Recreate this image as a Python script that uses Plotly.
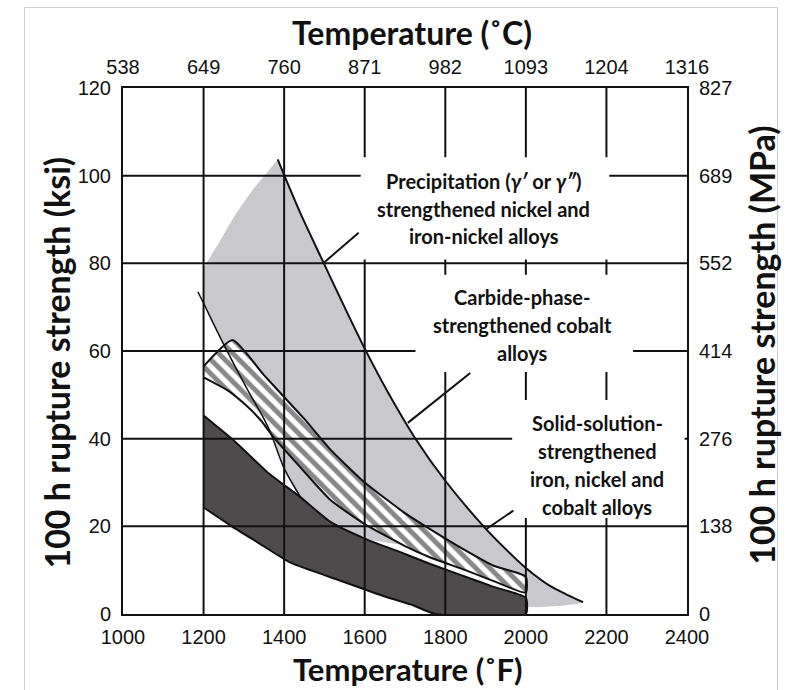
import plotly.graph_objects as go

# ---------------- data ----------------
temp_f_ticks = [1000, 1200, 1400, 1600, 1800, 2000, 2200, 2400]
temp_c_labels = ["538", "649", "760", "871", "982", "1093", "1204", "1316"]
ksi_ticks = [0, 20, 40, 60, 80, 100, 120]
mpa_labels = ["0", "138", "276", "414", "552", "689", "827"]

# Precipitation (gamma' / gamma'') strengthened Ni and Fe-Ni alloys
precip_edge_f = [1200, 1240, 1275, 1320, 1360, 1385]
precip_edge_ksi = [79, 85, 90.5, 96.5, 101, 103.5]
precip_upper_f = [1384, 1397, 1440, 1498, 1550, 1602, 1660, 1726, 1800, 1895, 1950, 2000, 2060, 2100, 2142]
precip_upper_ksi = [103.7, 100.8, 91.5, 80.1, 70, 60.2, 50.2, 40, 30.4, 20, 14.8, 10.5, 6.4, 4.5, 2.7]
precip_lower_f = [1186, 1200, 1250, 1310, 1350, 1367, 1399, 1441]
precip_lower_ksi = [73.5, 70.9, 61.5, 51, 44.5, 41.2, 33.4, 26.6]
precip_bottom_f = [2080, 2000]
precip_bottom_ksi = [1.8, 1.8]

# Solid-solution strengthened Fe, Ni and Co alloys
solid_top_f = [1200, 1275, 1359, 1441, 1515, 1600, 1700, 1763, 1850, 1920, 2000]
solid_top_ksi = [45.3, 39.6, 32.3, 26.6, 21, 17.2, 13.7, 11.4, 8.5, 6.2, 3.7]
solid_bot_f = [1200, 1270, 1335, 1416, 1540, 1650, 1720, 1775, 2000]
solid_bot_ksi = [24.3, 20, 16.3, 11.7, 7.6, 4, 2, 0, 0]

# Carbide-phase strengthened cobalt alloys
carbide_top_f = [1200, 1272, 1350, 1400, 1450, 1515, 1600, 1700, 1763, 1850, 1920, 2000]
carbide_top_ksi = [56.5, 62.5, 54.5, 49.5, 44.5, 37.5, 30, 23, 19.3, 14.5, 11, 8.5]
carbide_bot_f = [1200, 1260, 1310, 1342, 1374, 1441, 1515, 1600, 1700, 1763, 1850, 1920, 2000]
carbide_bot_ksi = [54, 51, 47.2, 44.2, 40.3, 33.4, 26, 20.5, 15.5, 12.9, 10, 7.5, 4.9]

# label texts
precip_label = ["Precipitation (<i>γ′</i> or <i>γ″</i>)", "strengthened nickel and", "iron-nickel alloys"]
carbide_label = ["Carbide-phase-", "strengthened cobalt", "alloys"]
solid_label = ["Solid-solution-", "strengthened", "iron, nickel and", "cobalt alloys"]

# ---------------- layout constants ----------------
GRAY = "#c8c8cd"
DARK = "#4e4b4d"
INK = "#111111"
LABEL_FONT = dict(family="Lato, 'Open Sans', sans-serif", size=20, color=INK)
TITLE_FONT = dict(family="Lato, 'Open Sans', sans-serif", size=32, color=INK)
BOTTOM_TITLE_FONT = dict(family="Lato, 'Open Sans', sans-serif", size=31, color=INK)
VTITLE_FONT = dict(family="Lato, 'Open Sans', sans-serif", size=34, color=INK)
TICK_FONT = dict(family="'Liberation Sans', Arial, sans-serif", size=20, color=INK)
POLY_SMOOTH = 0.5

fig = go.Figure()

# gray precipitation region
g_x = precip_edge_f + [f for f in precip_upper_f if f > 1385] + precip_bottom_f
g_y = precip_edge_ksi + [k for f, k in zip(precip_upper_f, precip_upper_ksi) if f > 1385] + precip_bottom_ksi
cb = [(f, k) for f, k in zip(carbide_bot_f, carbide_bot_ksi) if f >= 1700][::-1]
st = [(f, k) for f, k in zip(solid_top_f, solid_top_ksi) if 1441 <= f < 1700][::-1]
pl = [(f, k) for f, k in zip(precip_lower_f, precip_lower_ksi) if 1200 <= f < 1441][::-1]
for f, k in cb + st + pl:
    g_x.append(f)
    g_y.append(k)
fig.add_trace(go.Scatter(x=g_x, y=g_y, fill="toself", fillcolor=GRAY, mode="lines",
                         line=dict(width=0, color=GRAY, shape="spline", smoothing=POLY_SMOOTH),
                         hoverinfo="skip", showlegend=False))

# dark solid-solution band
fig.add_trace(go.Scatter(x=solid_top_f + solid_bot_f[::-1], y=solid_top_ksi + solid_bot_ksi[::-1],
                         fill="toself", fillcolor=DARK, mode="lines",
                         line=dict(width=2, color=INK, shape="spline", smoothing=POLY_SMOOTH),
                         hoverinfo="skip", showlegend=False))

# hatched carbide band
fig.add_trace(go.Scatter(x=carbide_top_f + carbide_bot_f[::-1], y=carbide_top_ksi + carbide_bot_ksi[::-1],
                         fill="toself", mode="lines",
                         fillpattern=dict(shape="\\", fgcolor=INK, bgcolor="white", size=10, solidity=0.5),
                         line=dict(width=2, color=INK, shape="spline", smoothing=POLY_SMOOTH),
                         hoverinfo="skip", showlegend=False))

# boundary curves of the precipitation region
fig.add_trace(go.Scatter(x=precip_upper_f, y=precip_upper_ksi, mode="lines",
                         line=dict(width=2, color=INK, shape="spline", smoothing=0.8),
                         hoverinfo="skip", showlegend=False))
fig.add_trace(go.Scatter(x=precip_lower_f, y=precip_lower_ksi, mode="lines",
                         line=dict(width=1.5, color=INK, shape="spline", smoothing=0.8),
                         hoverinfo="skip", showlegend=False))

# secondary axes (deg C on top, MPa on right)
fig.add_trace(go.Scatter(x=[temp_f_ticks[0]], y=[ksi_ticks[0]], xaxis="x2", yaxis="y2",
                         mode="markers", marker=dict(opacity=0), hoverinfo="skip", showlegend=False))

# grid lines drawn above the filled regions
shapes = []
for f in temp_f_ticks[1:-1]:
    shapes.append(dict(type="line", xref="x", yref="y", x0=f, x1=f, y0=ksi_ticks[0], y1=ksi_ticks[-1],
                       line=dict(color=INK, width=2), layer="above"))
for k in ksi_ticks[1:-1]:
    shapes.append(dict(type="line", xref="x", yref="y", x0=temp_f_ticks[0], x1=temp_f_ticks[-1], y0=k, y1=k,
                       line=dict(color=INK, width=2), layer="above"))

# white label boxes (interrupt the grid)
boxes = [(1590, 2207, 80.9, 104.2), (1726, 2266, 55.2, 77.4), (1966, 2394, 21.9, 48.8)]
for x0, x1, y0, y1 in boxes:
    shapes.append(dict(type="rect", xref="x", yref="y", x0=x0, x1=x1, y0=y0, y1=y1,
                       fillcolor="white", line=dict(width=0), layer="above"))

# leader lines
leaders = [(1585, 87, 1498, 80.1), (1862, 55, 1707, 43.6), (1969, 23.6, 1902, 19.4)]
for x0, y0, x1, y1 in leaders:
    shapes.append(dict(type="line", xref="x", yref="y", x0=x0, y0=y0, x1=x1, y1=y1,
                       line=dict(color=INK, width=2), layer="above"))

# light page border
shapes.append(dict(type="rect", xref="paper", yref="paper", x0=-0.1746, x1=1.1605, y0=-0.25, y1=1.153,
                   line=dict(color="#cfcfcf", width=1), fillcolor="rgba(0,0,0,0)", layer="above"))

annotations = []
for lines, xc, ys in [(precip_label, 1895, [98.7, 92.5, 86.3]),
                      (carbide_label, 1991, [72.4, 66.0, 59.5]),
                      (solid_label, 2177, [43.5, 37.3, 30.9, 24.3])]:
    for txt, yy in zip(lines, ys):
        annotations.append(dict(x=xc, y=yy, xref="x", yref="y", text="<b>" + txt + "</b>", showarrow=False,
                                xanchor="center", yanchor="middle", font=LABEL_FONT))

annotations += [
    dict(x=0.512, y=1.1046, xref="paper", yref="paper", text="<b>Temperature (˚C)</b>", showarrow=False,
         xanchor="center", yanchor="middle", font=TITLE_FONT),
    dict(x=0.505, y=-0.105, xref="paper", yref="paper", text="<b>Temperature (˚F)</b>", showarrow=False,
         xanchor="center", yanchor="middle", font=BOTTOM_TITLE_FONT),
    dict(x=-0.117, y=0.478, xref="paper", yref="paper", text="<b>100 h rupture strength (ksi)</b>",
         showarrow=False, textangle=-90, xanchor="center", yanchor="middle", font=VTITLE_FONT),
    dict(x=1.133, y=0.51, xref="paper", yref="paper", text="<b>100 h rupture strength (MPa)</b>",
         showarrow=False, textangle=-90, xanchor="center", yanchor="middle", font=VTITLE_FONT),
]

axis_common = dict(showgrid=False, zeroline=False, ticks="", tickfont=TICK_FONT,
                   showline=True, linecolor=INK, linewidth=2, mirror=True)

fig.update_layout(
    width=799, height=690,
    margin=dict(l=123, r=112, t=88, b=76),
    paper_bgcolor="white", plot_bgcolor="white",
    xaxis=dict(range=[temp_f_ticks[0], temp_f_ticks[-1]], tickvals=temp_f_ticks,
               ticktext=[str(v) for v in temp_f_ticks], ticklabelstandoff=4, **axis_common),
    xaxis2=dict(range=[temp_f_ticks[0], temp_f_ticks[-1]], tickvals=temp_f_ticks, ticktext=temp_c_labels,
                overlaying="x", side="top", anchor="y2", ticklabelstandoff=4, **axis_common),
    yaxis=dict(range=[ksi_ticks[0], ksi_ticks[-1]], tickvals=ksi_ticks,
               ticktext=[str(v) for v in ksi_ticks], ticklabelstandoff=6, **axis_common),
    yaxis2=dict(range=[ksi_ticks[0], ksi_ticks[-1]], tickvals=ksi_ticks, ticktext=mpa_labels,
                overlaying="y", side="right", anchor="x2", ticklabelstandoff=6, **axis_common),
    shapes=shapes,
    annotations=annotations,
    showlegend=False,
)

fig.write_html("out.html")
